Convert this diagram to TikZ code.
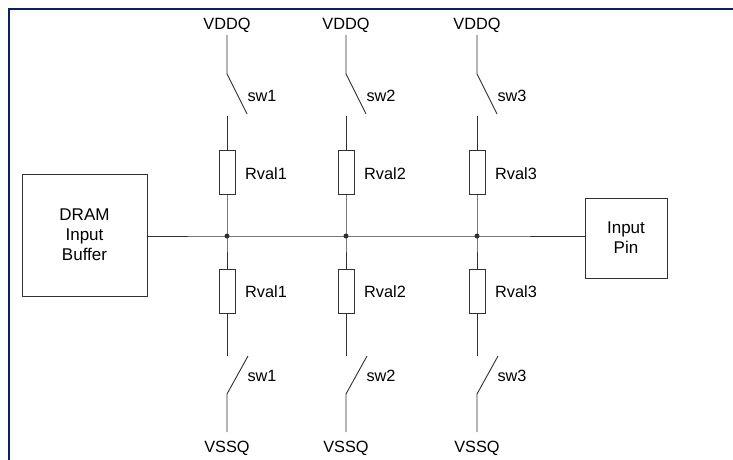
\documentclass[tikz,border=0pt]{standalone}
\usepackage{fontspec}
\setmainfont{Liberation Sans}
\definecolor{navy}{HTML}{0B1F65}
\definecolor{wirec}{HTML}{303030}
\begin{document}
\begin{tikzpicture}[x=1pt,y=-1pt,
  wire/.style={draw=wirec,line width=0.9pt},
  resbox/.style={draw=wirec,line width=0.9pt,minimum width=16pt,minimum height=44pt,inner sep=0pt},
  lbl/.style={font=\fontsize{16.3}{19}\selectfont,inner sep=0pt},
  blockbox/.style={draw=wirec,line width=0.9pt,align=center,inner sep=0pt,font=\fontsize{17}{20}\selectfont},
  junc/.style={circle,fill=wirec,minimum size=5pt,inner sep=0pt}]
\useasboundingbox (0,0) rectangle (733,460);
\draw[navy,line width=2pt] (9,460) -- (9,9) -- (733,9);

\node[blockbox,minimum width=125pt,minimum height=122pt] (dram) at (84.5,235) {DRAM\\Input\\Buffer};
\node[blockbox,minimum width=82pt,minimum height=80pt] (pin) at (626,238) {Input\\Pin};

\foreach \i/\x in {1/227,2/346,3/477}{
  \node[lbl] (vdd\i) at (\x,25) {VDDQ};
  \coordinate (ta\i) at (\x,35);
  \coordinate (tb\i) at (\x,74);
  \coordinate (tc\i) at (\x+20,114);
  \coordinate (td\i) at (\x,116);
  \node[resbox] (ru\i) at (\x,172) {};
  \node[junc] (j\i) at (\x,236) {};
  \node[resbox] (rl\i) at (\x,291) {};
  \coordinate (ba\i) at (\x,356);
  \coordinate (bc\i) at (\x+21,356);
  \coordinate (bb\i) at (\x,394);
  \coordinate (bd\i) at (\x,432);
  \node[lbl] (vss\i) at (\x,448) {VSSQ};
  \node[lbl] (swu\i) at (\x+35,96) {sw\i};
  \node[lbl] (rvu\i) at (\x+39,174) {Rval\i};
  \node[lbl] (rvl\i) at (\x+39,292) {Rval\i};
  \node[lbl] (swl\i) at (\x+35,376) {sw\i};
  \draw[wire] (ta\i) -- (tb\i) -- (tc\i);
  \draw[wire] (td\i) -- (ru\i.north);
  \draw[wire] (ru\i.south) -- (j\i.center) -- (rl\i.north);
  \draw[wire] (rl\i.south) -- (ba\i);
  \draw[wire] (bc\i) -- (bb\i) -- (bd\i);
}
\draw[wire] (dram.east |- j1) -- (j1.center) -- (j2.center) -- (j3.center) -- (pin.west |- j3);
\end{tikzpicture}
\end{document}
